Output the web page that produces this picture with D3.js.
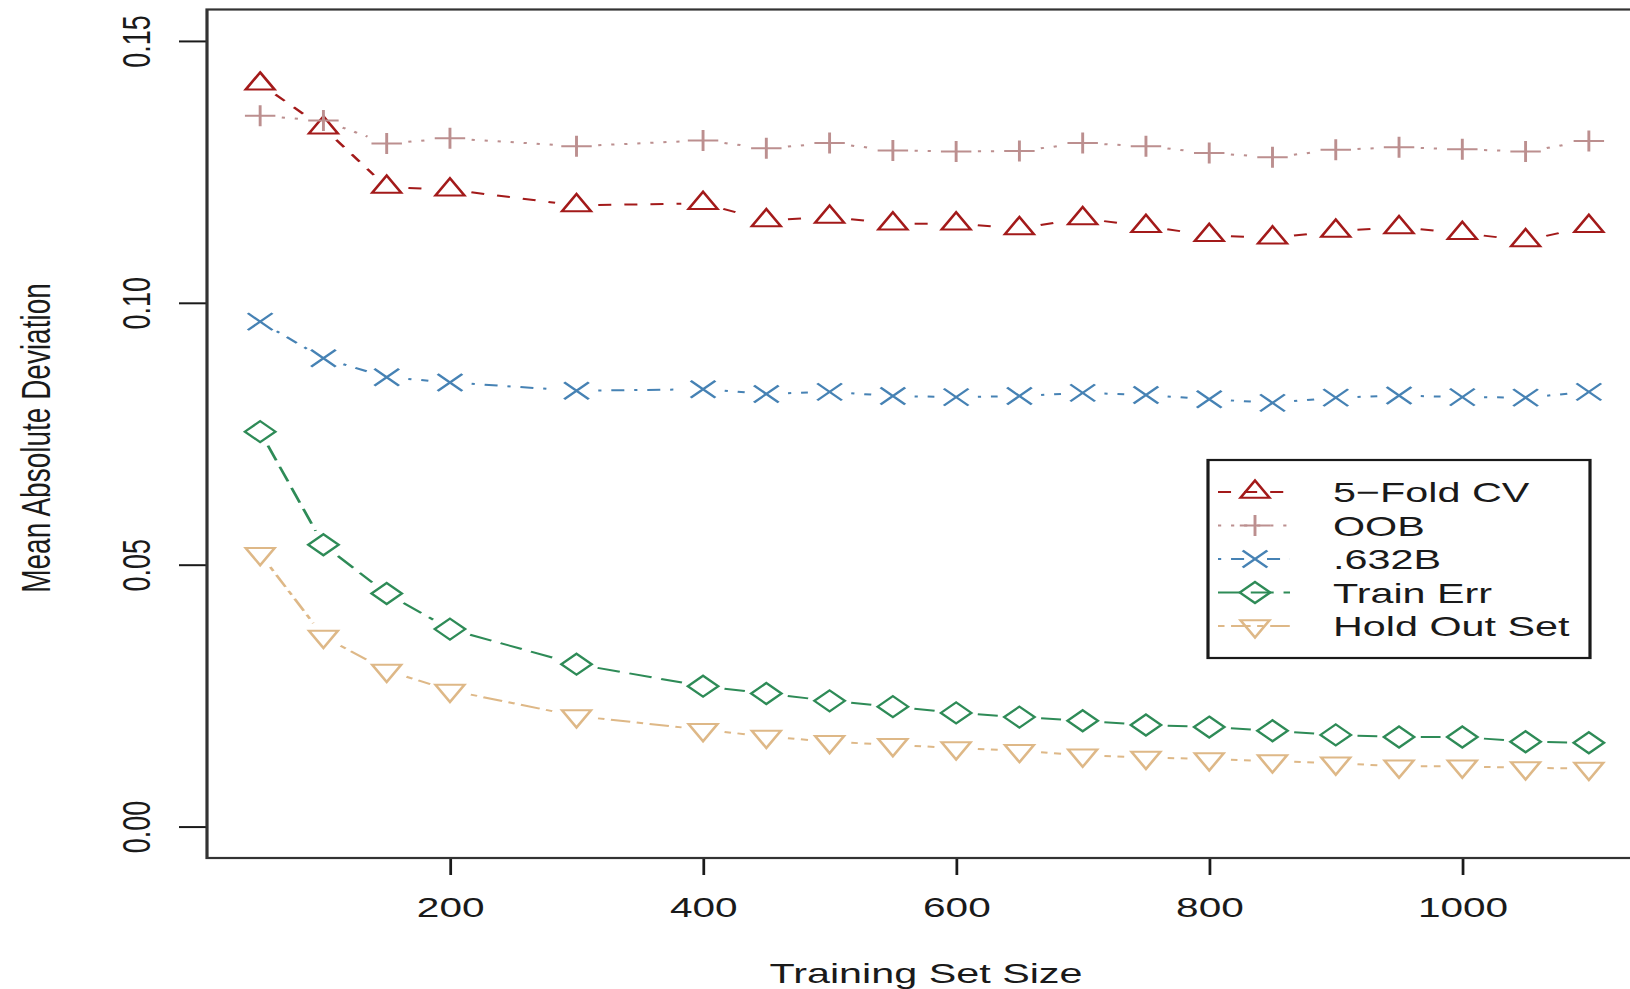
<!DOCTYPE html>
<html>
<head>
<meta charset="utf-8">
<script src="https://cdnjs.cloudflare.com/ajax/libs/d3/7.8.5/d3.min.js"></script>
<style>
body { margin: 0; background: #fff; }
svg text { font-family: "Liberation Sans", Arial, Helvetica, sans-serif; fill: #1a1a1a; }
</style>
</head>
<body>
<div id="graph"></div>
<script>
// training set sizes (x)
var sizes = [50, 100, 150, 200, 300, 400, 450, 500, 550, 600, 650, 700, 750, 800, 850, 900, 950, 1000, 1050, 1100];
// mean absolute deviation for each estimate
var fiveFoldCV = [0.1418, 0.1334, 0.1221, 0.1216, 0.1186, 0.1190, 0.1157, 0.1164, 0.1151, 0.1151, 0.1142, 0.1161, 0.1146, 0.1129, 0.1124, 0.1137, 0.1144, 0.1133, 0.1119, 0.1146];
var oob = [0.1357, 0.1348, 0.1304, 0.1314, 0.1299, 0.1310, 0.1295, 0.1305, 0.1291, 0.1289, 0.1290, 0.1305, 0.1299, 0.1286, 0.1278, 0.1292, 0.1297, 0.1293, 0.1289, 0.1309];
var b632 = [0.0964, 0.0894, 0.0858, 0.0848, 0.0832, 0.0835, 0.0826, 0.0830, 0.0822, 0.0820, 0.0822, 0.0828, 0.0824, 0.0816, 0.0809, 0.0819, 0.0823, 0.0820, 0.0819, 0.0830];
var trainErr = [0.0754, 0.0538, 0.0445, 0.0377, 0.0310, 0.0268, 0.0254, 0.0240, 0.0229, 0.0217, 0.0209, 0.0202, 0.0194, 0.0190, 0.0183, 0.0175, 0.0171, 0.0171, 0.0162, 0.0160];
var holdOut = [0.0521, 0.0363, 0.0298, 0.0260, 0.0211, 0.0185, 0.0172, 0.0162, 0.0156, 0.0150, 0.0145, 0.0136, 0.0132, 0.0129, 0.0125, 0.0121, 0.0115, 0.0115, 0.0112, 0.0111];

var seriesNames = ["5\u2212Fold CV", "OOB", ".632B", "Train Err", "Hold Out Set"];
var xTicks = [200, 400, 600, 800, 1000];
var yTicks = [0, 0.05, 0.10, 0.15];
var yLimits = [0, 0.15];

// the picture is stretched sideways, so draw everything narrow and scale it back out
var S = 1.45;
var svg = d3.select("#graph").append("svg")
	.attr("width", 1630)
	.attr("height", 989);
var g = svg.append("g").attr("transform", "scale(" + S + ",1)");

// R style limits: data range padded by 4% each side
var xExt = d3.extent(sizes), xPad = (xExt[1] - xExt[0]) * 0.04;
var yPad = (yLimits[1] - yLimits[0]) * 0.04;
var xScale = d3.scaleLinear().domain([xExt[0] - xPad, xExt[1] + xPad]).range([207 / S, 1642 / S]);
var yScale = d3.scaleLinear().domain([yLimits[0] - yPad, yLimits[1] + yPad]).range([858, 9.5]);

// x axis
g.append("g")
	.attr("transform", "translate(0," + yScale.range()[0] + ")")
	.call(d3.axisBottom(xScale).tickValues(xTicks).tickSize(17).tickSizeOuter(0).tickFormat(d3.format("d")))
	.call(function(a){
		a.select(".domain").remove();
		a.selectAll("line").attr("stroke", "#1a1a1a").attr("stroke-width", 1.9);
		a.selectAll("text").attr("y", 59).attr("dy", null).style("font-size", "28px");
	});
// y axis, labels turned like R does
g.append("g")
	.attr("transform", "translate(" + xScale.range()[0] + ",0)")
	.call(d3.axisLeft(yScale).tickValues(yTicks).tickSize(28 / S).tickFormat(d3.format(".2f")))
	.call(function(a){
		a.select(".domain").remove();
		a.selectAll("line").attr("stroke", "#1a1a1a").attr("stroke-width", 2);
		a.selectAll("text")
			.attr("x", null).attr("dy", null)
			.attr("text-anchor", "middle")
			.attr("transform", "translate(" + (150 / S - xScale.range()[0]) + ",0) rotate(-90)")
			.style("font-size", "27px");
	});

// plot box (right side runs off the picture)
g.append("rect")
	.attr("x", xScale.range()[0]).attr("y", yScale.range()[1])
	.attr("width", xScale.range()[1] - xScale.range()[0])
	.attr("height", yScale.range()[0] - yScale.range()[1])
	.attr("fill", "none").attr("stroke", "#333").attr("stroke-width", 2.2);

// axis titles
g.append("text").attr("x", 926 / S).attr("y", 983).attr("text-anchor", "middle")
	.style("font-size", "28.5px").text("Training Set Size");
g.append("text").attr("text-anchor", "middle")
	.attr("transform", "translate(" + (50 / S) + ",438) rotate(-90)")
	.style("font-size", "28px").text("Mean Absolute Deviation");

// marker shapes, R pch 2,3,4,5,6
var shapes = {
	up: "M0,-11.5L10,5.75L-10,5.75Z",
	plus: "M-10.5,0H10.5M0,-10.5V10.5",
	cross: "M-8.5,-8.5L8.5,8.5M-8.5,8.5L8.5,-8.5",
	diamond: "M0,-10.5L10.5,0L0,10.5L-10.5,0Z",
	down: "M0,11.5L10,-5.75L-10,-5.75Z"
};
var series = [
	{name: seriesNames[0], values: fiveFoldCV, color: "#a31a1a", dash: "9 9", shape: "up"},
	{name: seriesNames[1], values: oob, color: "#bc8f8f", dash: "2.2 6.8", shape: "plus"},
	{name: seriesNames[2], values: b632, color: "#4682b4", dash: "2.2 6.8 9 6.8", shape: "cross"},
	{name: seriesNames[3], values: trainErr, color: "#2e8b57", dash: "15.8 6.8", shape: "diamond"},
	{name: seriesNames[4], values: holdOut, color: "#deb887", dash: "4.5 4.5 13.5 4.5", shape: "down"}
];

// type="b": segments stop short of each point
var gap = 15;
function gapSegments(pts){
	var segs = [];
	for (var i = 0; i < pts.length - 1; i++) {
		var a = pts[i], b = pts[i + 1];
		var dx = b[0] - a[0], dy = b[1] - a[1], len = Math.sqrt(dx * dx + dy * dy);
		if (len <= 2 * gap) continue;
		var f = gap / len;
		segs.push([a[0] + dx * f, a[1] + dy * f, b[0] - dx * f, b[1] - dy * f]);
	}
	return segs;
}

series.forEach(function(s){
	var pts = s.values.map(function(v, i){ return [xScale(sizes[i]), yScale(v)]; });
	var sg = g.append("g").attr("class", "series");
	sg.selectAll("line").data(gapSegments(pts)).enter().append("line")
		.attr("x1", function(d){ return d[0]; }).attr("y1", function(d){ return d[1]; })
		.attr("x2", function(d){ return d[2]; }).attr("y2", function(d){ return d[3]; })
		.attr("stroke", s.color).attr("stroke-width", 2).attr("stroke-dasharray", s.dash);
	sg.selectAll("path").data(pts).enter().append("path")
		.attr("d", shapes[s.shape])
		.attr("transform", function(d){ return "translate(" + d[0] + "," + d[1] + ")"; })
		.attr("fill", "none").attr("stroke", s.color).attr("stroke-width", 2);
});

// legend
var lg = g.append("g").attr("class", "legend");
lg.append("rect")
	.attr("x", 1208 / S).attr("y", 460)
	.attr("width", (1590 - 1208) / S).attr("height", 198)
	.attr("fill", "#fff").attr("stroke", "#1a1a1a").attr("stroke-width", 2.2);
series.forEach(function(s, i){
	var ry = 492 + i * 33.5;
	lg.append("line")
		.attr("x1", 1218 / S).attr("x2", 1290 / S).attr("y1", ry).attr("y2", ry)
		.attr("stroke", s.color).attr("stroke-width", 2).attr("stroke-dasharray", s.dash);
	lg.append("path").attr("d", shapes[s.shape])
		.attr("transform", "translate(" + (1255 / S) + "," + ry + ")")
		.attr("fill", "none").attr("stroke", s.color).attr("stroke-width", 2);
	lg.append("text").attr("x", 1333 / S).attr("y", ry + 10.5)
		.style("font-size", "28.5px").text(s.name);
});
</script>
</body>
</html>
